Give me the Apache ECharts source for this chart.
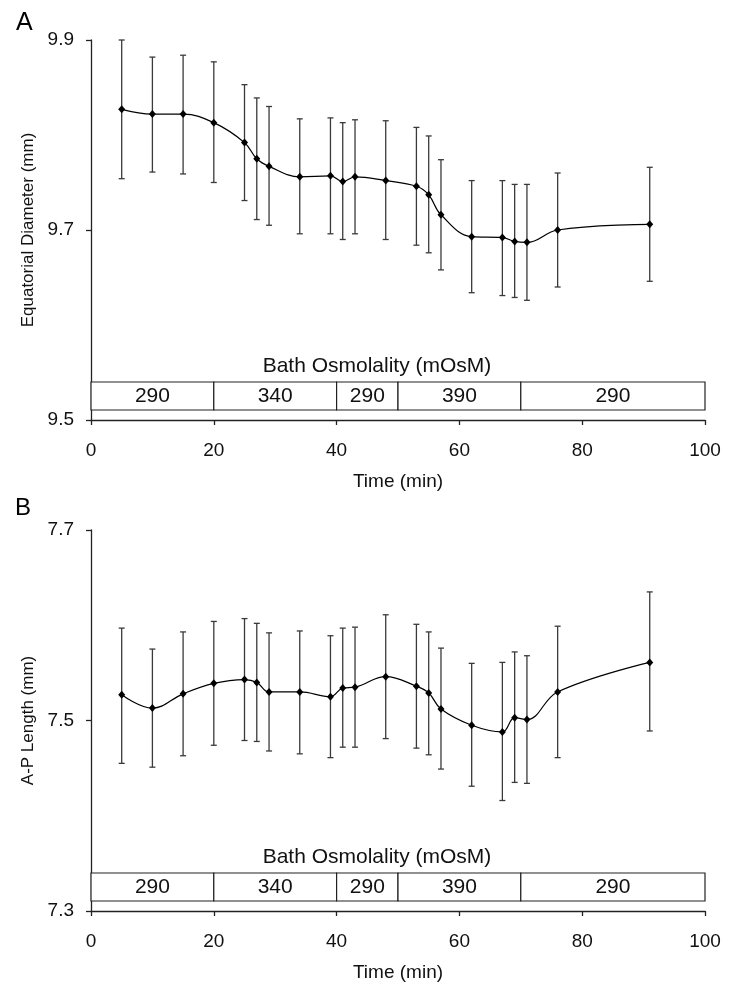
<!DOCTYPE html>
<html><head><meta charset="utf-8">
<script src="https://cdn.jsdelivr.net/npm/echarts@6/dist/echarts.min.js"></script>
<style>html,body{margin:0;padding:0;background:#fff}#c{width:731px;height:997px}</style>
</head><body><div id="c"></div>
<script>
// ---- data ----
const times = [5,10,15,20,25,27,29,34,39,41,43,48,53,55,57,62,67,69,71,76,91];
const eqMean  = [9.827,9.822,9.822,9.813,9.792,9.775,9.767,9.756,9.757,9.751,9.756,9.752,9.746,9.737,9.716,9.693,9.692,9.688,9.687,9.700,9.706];
const eqUpper = [9.900,9.882,9.884,9.877,9.853,9.839,9.830,9.817,9.818,9.813,9.816,9.815,9.808,9.799,9.774,9.752,9.752,9.748,9.748,9.760,9.766];
const eqLower = [9.754,9.761,9.759,9.750,9.731,9.711,9.705,9.696,9.696,9.690,9.696,9.690,9.684,9.676,9.658,9.634,9.631,9.629,9.626,9.640,9.646];
const apMean  = [7.527,7.513,7.528,7.539,7.543,7.540,7.530,7.530,7.525,7.534,7.535,7.546,7.536,7.529,7.512,7.495,7.488,7.503,7.501,7.530,7.561];
const apUpper = [7.597,7.575,7.593,7.604,7.607,7.602,7.592,7.594,7.589,7.597,7.598,7.611,7.601,7.593,7.576,7.560,7.561,7.572,7.568,7.599,7.635];
const apLower = [7.455,7.451,7.463,7.474,7.479,7.478,7.468,7.465,7.461,7.472,7.472,7.481,7.471,7.464,7.449,7.431,7.416,7.435,7.434,7.461,7.489];
const osmStart = [0,20,40,50,70];
const osmEnd   = [20,40,50,70,100];
const osmLabel = ['290','340','290','390','290'];
const xTicks  = [0,20,40,60,80,100];
const eqTicks = [9.5,9.7,9.9];
const apTicks = [7.3,7.5,7.7];
const osmTitle = 'Bath Osmolality (mOsM)';

// ---- rendering ----
const FONT = '"Liberation Sans", Arial, sans-serif';
const AXC = '#222';
const TXT = '#111';

function errRender(params, api){
  const x = api.value(0), lo = api.value(1), hi = api.value(2);
  const p1 = api.coord([x, hi]), p2 = api.coord([x, lo]);
  const w = 3, st = {stroke:'#3a3a3a', lineWidth:1.3};
  return {type:'group', children:[
    {type:'line', shape:{x1:p1[0],y1:p1[1],x2:p2[0],y2:p2[1]}, style:st},
    {type:'line', shape:{x1:p1[0]-w,y1:p1[1],x2:p1[0]+w,y2:p1[1]}, style:st},
    {type:'line', shape:{x1:p2[0]-w,y1:p2[1],x2:p2[0]+w,y2:p2[1]}, style:st}
  ]};
}
function osmRender(params, api){
  const s = api.value(0), e = api.value(1);
  const cs = params.coordSys;
  const bottom = cs.y + cs.height;
  const x1 = api.coord([s, api.value(2)])[0], x2 = api.coord([e, api.value(2)])[0];
  return {type:'group', children:[
    {type:'rect', shape:{x:x1, y:bottom-38, width:x2-x1, height:28}, style:{fill:'#fff', stroke:'#222', lineWidth:1.2}},
    {type:'text', x:(x1+x2)/2, y:bottom-23.5, style:{text:osmLabel[params.dataIndex], font:'21px '+FONT, fill:TXT, align:'center', verticalAlign:'middle'}}
  ]};
}

function xAxisDef(gi){
  return {type:'value', gridIndex:gi, min:0, max:100, interval:20,
    name:'Time (min)', nameLocation:'middle', nameGap:52,
    nameTextStyle:{fontFamily:FONT, fontSize:19, color:TXT},
    axisLine:{lineStyle:{color:AXC, width:1.3}},
    axisTick:{show:true, length:5, lineStyle:{color:AXC, width:1.3}, customValues:xTicks},
    axisLabel:{customValues:xTicks, fontFamily:FONT, fontSize:19, color:TXT, margin:21},
    splitLine:{show:false}};
}
function yAxisDef(gi, min, max, ticks, name){
  return {type:'value', gridIndex:gi, min:min, max:max, interval:0.1,
    name:name, nameLocation:'middle', nameGap:49,
    nameTextStyle:{fontFamily:FONT, fontSize:17, color:TXT},
    axisLine:{show:true, lineStyle:{color:AXC, width:1.3}},
    axisTick:{show:true, length:5, lineStyle:{color:AXC, width:1.3}, customValues:ticks},
    axisLabel:{customValues:ticks, fontFamily:FONT, fontSize:19, color:TXT, margin:17, formatter:v=>Number(v).toFixed(1)},
    splitLine:{show:false}};
}
function panelSeries(gi, mean, lo, hi, ymin){
  return [
    {type:'custom', xAxisIndex:gi, yAxisIndex:gi, renderItem:errRender, z:2,
     data:times.map((t,i)=>[t, lo[i], hi[i]]), encode:{x:0, y:[1,2]}},
    {type:'line', xAxisIndex:gi, yAxisIndex:gi, smooth:0.4, z:3,
     data:times.map((t,i)=>[t, mean[i]]),
     symbol:'diamond', symbolSize:[7,8], itemStyle:{color:'#000'},
     lineStyle:{color:'#000', width:1.2}},
    {type:'custom', xAxisIndex:gi, yAxisIndex:gi, renderItem:osmRender, z:4, clip:false,
     data:osmStart.map((s,i)=>[s, osmEnd[i], ymin]), encode:{x:[0,1]}}
  ];
}

const chart = echarts.init(document.getElementById('c'), null, {renderer:'canvas'});
chart.setOption({
  animation:false,
  backgroundColor:'#fff',
  grid:[
    {left:91, right:26, top:40, height:380},
    {left:91, right:26, top:530, height:381}
  ],
  xAxis:[xAxisDef(0), xAxisDef(1)],
  yAxis:[yAxisDef(0, 9.5, 9.9, eqTicks, 'Equatorial Diameter (mm)'),
         yAxisDef(1, 7.3, 7.7, apTicks, 'A-P Length (mm)')],
  series:[].concat(panelSeries(0, eqMean, eqLower, eqUpper, 9.5), panelSeries(1, apMean, apLower, apUpper, 7.3)),
  graphic:[
    {type:'text', x:16, y:23, style:{text:'A', font:'25px '+FONT, fill:'#000', verticalAlign:'middle'}},
    {type:'text', x:15, y:508, style:{text:'B', font:'24px '+FONT, fill:'#000', verticalAlign:'middle'}},
    {type:'text', x:377, y:366, style:{text:osmTitle, font:'21px '+FONT, fill:TXT, align:'center', verticalAlign:'middle'}},
    {type:'text', x:377, y:857, style:{text:osmTitle, font:'21px '+FONT, fill:TXT, align:'center', verticalAlign:'middle'}}
  ]
});
</script>
</body></html>
